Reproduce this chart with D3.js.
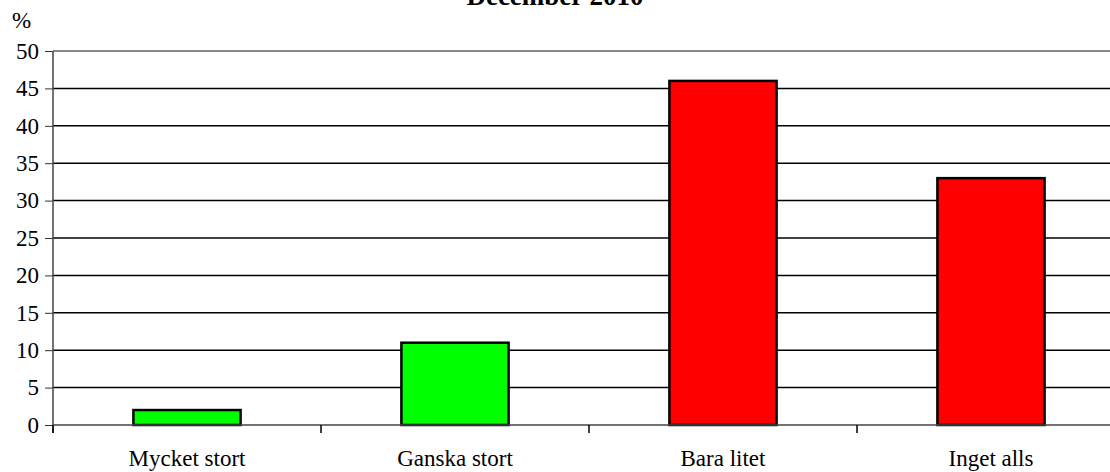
<!DOCTYPE html>
<html>
<head>
<meta charset="utf-8">
<script src="https://cdn.jsdelivr.net/npm/d3@7"></script>
<style>
body { margin: 0; background: #fff; }
text { font-family: "Liberation Serif", "Times New Roman", serif; }
</style>
</head>
<body>
<svg id="chart"></svg>
<script>
var categories = ["Mycket stort", "Ganska stort", "Bara litet", "Inget alls"];
var values = [2, 11, 46, 33];
var barColors = ["#00ff00", "#00ff00", "#ff0000", "#ff0000"];
var yTicks = [0, 5, 10, 15, 20, 25, 30, 35, 40, 45, 50];
var title = "December 2010";

var width = 1110, height = 472;
var margin = {top: 51, right: -15, bottom: 47, left: 53};
var innerW = width - margin.left - margin.right;
var innerH = height - margin.top - margin.bottom;

var svg = d3.select("#chart")
    .attr("width", width)
    .attr("height", height);

var x = d3.scaleBand()
    .domain(categories)
    .range([0, innerW])
    .paddingInner(0.6)
    .paddingOuter(0.3);

var y = d3.scaleLinear()
    .domain([0, 50])
    .range([innerH, 0]);

var g = svg.append("g")
    .attr("transform", "translate(" + margin.left + "," + margin.top + ")");

// gridlines
g.selectAll("line.grid")
    .data(yTicks.filter(d => d > 0 && d < 50))
    .enter()
    .append("line")
    .attr("x1", 0)
    .attr("x2", innerW)
    .attr("y1", d => y(d))
    .attr("y2", d => y(d))
    .attr("stroke", "#000")
    .attr("stroke-width", 1.5);

// top border
g.append("line")
    .attr("x1", 0).attr("x2", innerW)
    .attr("y1", y(50)).attr("y2", y(50))
    .attr("stroke", "#888")
    .attr("stroke-width", 2);

// bars
g.selectAll("rect.bar")
    .data(values)
    .enter()
    .append("rect")
    .attr("x", (d, i) => x(categories[i]))
    .attr("y", d => y(d))
    .attr("width", x.bandwidth())
    .attr("height", d => innerH - y(d))
    .attr("fill", (d, i) => barColors[i])
    .attr("stroke", "#000")
    .attr("stroke-width", 2.5);

// y axis
var yAxis = g.append("g")
    .call(d3.axisLeft(y).tickValues(yTicks).tickSize(8).tickPadding(6));
yAxis.select(".domain").remove();
yAxis.selectAll(".tick line").attr("stroke", "#333");
yAxis.selectAll("text")
    .attr("font-size", "23px")
    .attr("fill", "#000")
    .attr("font-family", "Liberation Serif, serif");

g.append("line")
    .attr("x1", 0).attr("x2", 0)
    .attr("y1", y(50)).attr("y2", innerH + 8)
    .attr("stroke", "#444")
    .attr("stroke-width", 1.5);

// x axis baseline
g.append("line")
    .attr("x1", 0).attr("x2", innerW)
    .attr("y1", innerH).attr("y2", innerH)
    .attr("stroke", "#444")
    .attr("stroke-width", 1.5);

// category boundary ticks
var step = x.step();
g.selectAll("line.xtick")
    .data(categories)
    .enter()
    .append("line")
    .attr("x1", (d, i) => i * step)
    .attr("x2", (d, i) => i * step)
    .attr("y1", innerH)
    .attr("y2", innerH + 8)
    .attr("stroke", "#000")
    .attr("stroke-width", 1.5);

g.selectAll("text.cat")
    .data(categories)
    .enter()
    .append("text")
    .attr("x", d => x(d) + x.bandwidth() / 2)
    .attr("y", innerH + 41)
    .attr("text-anchor", "middle")
    .attr("font-size", "23px")
    .text(d => d);

svg.append("text")
    .attr("x", 12)
    .attr("y", 28)
    .attr("font-size", "23px")
    .text("%");

svg.append("text")
    .attr("x", 555)
    .attr("y", 5)
    .attr("text-anchor", "middle")
    .attr("font-size", "27px")
    .attr("font-weight", "bold")
    .text(title);
</script>
</body>
</html>
